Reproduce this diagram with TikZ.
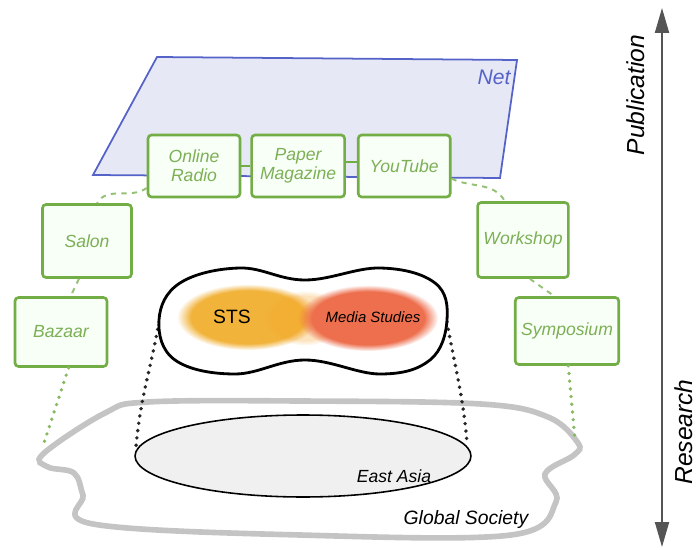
\documentclass[tikz,border=0pt]{standalone}
\usepackage{fontspec}
\setmainfont{Liberation Sans}
\usetikzlibrary{arrows.meta,positioning,fadings}
\definecolor{BoxGreen}{HTML}{72AD45}
\definecolor{InkGreen}{HTML}{7DAF55}
\definecolor{NetBlue}{HTML}{5563C9}
\definecolor{NetFill}{HTML}{E6E8F5}
\definecolor{StsGold}{HTML}{F2B33A}
\definecolor{MediaRed}{HTML}{EE6F4E}
\definecolor{BandGray}{HTML}{C4C4C4}
\definecolor{AxisGray}{HTML}{555555}

\begin{document}
\begin{tikzpicture}[
  x=0.02cm,y=-0.02cm,
  venue/.style={rectangle,rounded corners=2pt,draw=BoxGreen,line width=1.5pt,fill=green!3!white,minimum width=1.84cm,minimum height=1.24cm,align=center,text=InkGreen,font=\itshape\fontsize{10}{11}\selectfont},
  link/.style={draw=BoxGreen!75,dashed,line width=1.1pt},
  tie/.style={draw=BoxGreen,line width=1pt},
  trail/.style={draw=BoxGreen!85,line width=2.1pt,line cap=round,dash pattern=on 0pt off 4.4pt},
  drop/.style={draw=black!85,line width=2.2pt,line cap=round,dash pattern=on 0pt off 4.2pt},
  hand/.style={font=\itshape\fontsize{11}{12}\selectfont},
  axis/.style={{Triangle[length=0.5cm,width=0.28cm]}-{Triangle[length=0.5cm,width=0.28cm]},line width=1.1pt,draw=AxisGray,fill=AxisGray}]
\useasboundingbox (0,0) rectangle (699,550);

% global society band and east asia
\draw[draw=BandGray,line width=3.2pt,fill=white] plot[smooth cycle,tension=0.6] coordinates {
  (148,402) (300,401) (481,404) (548,417) (578,443) (574,455) (545,474) (556,502)
  (511,535) (300,535) (93,524) (83,495) (74,473) (48,467) (43,454) (105,413)};
\draw[black,line width=0.9pt,fill=black!6] (303,456) ellipse [x radius=3.36cm,y radius=0.82cm];
\node[hand,font=\itshape\fontsize{10}{11}\selectfont] (asia) at (394,476) {East Asia};
\node[hand] (global) at (466,519) {Global Society};

% the net
\draw[NetBlue,line width=1pt,fill=NetFill] (157,57) -- (517,60) -- (500,178) -- (93,175) -- cycle;
\node[hand,text=NetBlue,font=\itshape\fontsize{12}{13}\selectfont] (net) at (494,77) {Net};

% venues
\node[venue] (online) at (194,166) {Online\\Radio};
\node[venue,right=0.18cm of online,minimum width=1.86cm] (paper) {Paper\\Magazine};
\node[venue,right=0.22cm of paper] (youtube) {YouTube};
\node[venue,minimum width=1.78cm,minimum height=1.46cm] (salon) at (87,241) {Salon};
\node[venue,minimum height=1.38cm] (bazaar) at (61,332) {Bazaar};
\node[venue,minimum width=1.74cm,minimum height=1.5cm] (workshop) at (523,240) {Workshop};
\node[venue,minimum width=1.98cm,minimum height=1.34cm] (symposium) at (567,331) {Symposium};
\coordinate (leftfoot) at (43,446);
\coordinate (rightfoot) at (575,440);

\draw[tie] (online) -- (paper);
\draw[tie] ([yshift=0.08cm]paper.east) -- ([yshift=0.08cm]youtube.west);
\draw[link] (online.205) to[out=215,in=60] (salon.75);
\draw[link] (salon.258) -- (bazaar.75);
\draw[trail] (bazaar.282) -- (leftfoot);
\draw[link] (youtube.-15) to[out=-25,in=120] (workshop.115);
\draw[link] (workshop.-80) -- (symposium.110);
\draw[trail] (symposium.-88) -- (rightfoot);

% the field: STS and media studies
\coordinate (pl) at (159,322);
\coordinate (pr) at (447,322);
\coordinate (el) at (136,447);
\coordinate (er) at (467,442);
\draw[drop] (pl) to[out=-100,in=85] (el);
\draw[drop] (pr) to[out=-80,in=95] (er);
\draw[black,line width=1.6pt,fill=white] plot[smooth cycle,tension=0.65] coordinates {
  (159,320) (180,283) (240,268) (305,280) (380,268) (435,283) (447,320)
  (430,360) (380,374) (305,360) (235,374) (175,360)};
\fill[StsGold,path fading=circle with fuzzy edge 20 percent] (248,317) ellipse [x radius=1.42cm,y radius=0.66cm];
\fill[StsGold!70!orange,opacity=0.3,path fading=circle with fuzzy edge 20 percent] (305,318) ellipse [x radius=0.8cm,y radius=0.55cm];
\fill[MediaRed,path fading=circle with fuzzy edge 20 percent] (368,318) ellipse [x radius=1.4cm,y radius=0.66cm];
\node[hand,font=\fontsize{11}{12}\selectfont] (sts) at (232,317) {STS};
\node[hand,font=\itshape\fontsize{8.5}{10}\selectfont] (media) at (373,317) {Media Studies};

% publication / research axis
\coordinate (pubend) at (662,8);
\coordinate (resend) at (662,547);
\draw[axis] (resend) -- (pubend);
\node[hand,rotate=90,font=\itshape\fontsize{14}{15}\selectfont] (pub) at (636,95) {Publication};
\node[hand,rotate=90,font=\itshape\fontsize{14}{15}\selectfont] (res) at (684,432) {Research};
\end{tikzpicture}
\end{document}
